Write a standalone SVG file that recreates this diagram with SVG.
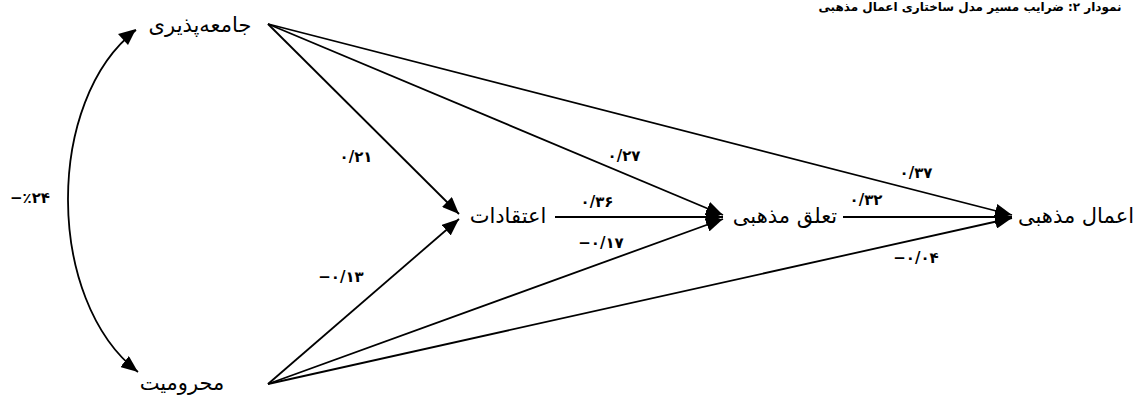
<svg xmlns="http://www.w3.org/2000/svg" width="1136" height="396" viewBox="0 0 1136 396">
<style>
.node{font-family:"DejaVu Sans","Noto Sans",sans-serif;font-size:21px;fill:#000;text-anchor:middle;direction:rtl}
.lbl{font-family:"DejaVu Sans","Noto Sans",sans-serif;font-size:15px;font-weight:bold;fill:#000;text-anchor:middle;direction:ltr}
.title{font-family:"DejaVu Sans","Noto Sans",sans-serif;font-size:12px;font-weight:bold;fill:#000;text-anchor:middle;direction:rtl}
.c{stroke:#000;stroke-width:1.8;fill:none;marker-end:url(#ah)}
</style>
<defs>
<marker id="ah" markerUnits="userSpaceOnUse" markerWidth="18" markerHeight="14" refX="17" refY="7" orient="auto">
<path d="M0,0 L17,7 L0,14 z" fill="#000"/>
</marker>
</defs>
<rect width="1136" height="396" fill="#fff"/>
<text class="title" x="970" y="11">نمودار ۲: ضرایب مسیر مدل ساختاری اعمال مذهبی</text>
<g id="connectors">
<path class="c" d="M136,30 C45,100 45,300 138,372"/>
<path d="M136,29 L118,34 L128,45 z" fill="#000"/>
<line class="c" x1="268" y1="24" x2="459" y2="214"/>
<line class="c" x1="268" y1="24" x2="723" y2="215"/>
<line class="c" x1="268" y1="24" x2="1012" y2="215"/>
<line class="c" x1="268" y1="384" x2="459" y2="219"/>
<line class="c" x1="268" y1="384" x2="723" y2="219"/>
<line class="c" x1="268" y1="384" x2="1012" y2="218"/>
<line class="c" x1="555" y1="217" x2="723" y2="217"/>
<line class="c" x1="843" y1="217" x2="1012" y2="217"/>
</g>
<g id="labels">
<text class="lbl" x="30" y="203">−٪۲۴</text>
<text class="lbl" x="356" y="162">۰/۲۱</text>
<text class="lbl" x="624" y="161">۰/۲۷</text>
<text class="lbl" x="597" y="207">۰/۳۶</text>
<text class="lbl" x="601" y="248">−۰/۱۷</text>
<text class="lbl" x="341" y="282">−۰/۱۳</text>
<text class="lbl" x="916" y="178">۰/۳۷</text>
<text class="lbl" x="866" y="205">۰/۳۲</text>
<text class="lbl" x="916" y="263">−۰/۰۴</text>
</g>
<g id="n-jameepaziri"><text class="node" x="200" y="32">جامعه‌پذیری</text></g>
<g id="n-mahroumiat"><text class="node" x="182" y="390">محرومیت</text></g>
<g id="n-eteghadat"><text class="node" x="508" y="223">اعتقادات</text></g>
<g id="n-taalogh"><text class="node" x="785" y="223">تعلق مذهبی</text></g>
<g id="n-aamal"><text class="node" x="1076" y="223">اعمال مذهبی</text></g>
</svg>
